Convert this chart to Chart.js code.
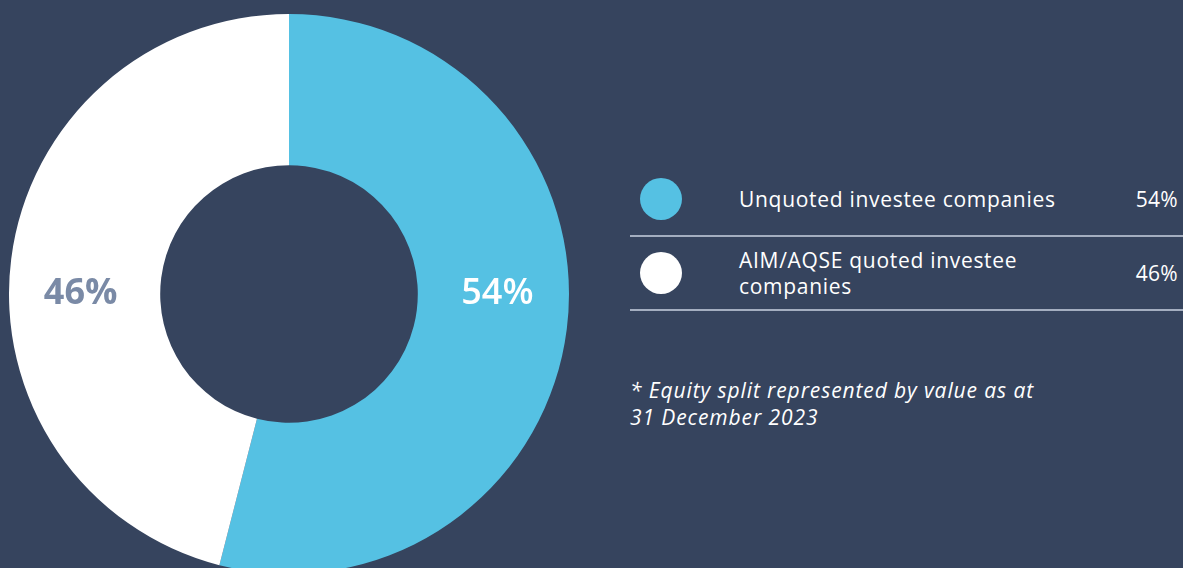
<!DOCTYPE html>
<html>
<head>
<meta charset="utf-8">
<script src="https://cdn.jsdelivr.net/npm/chart.js@4.4.1/dist/chart.umd.min.js"></script>
<style>
    html, body {
        margin: 0;
        padding: 0;
        width: 1183px;
        height: 568px;
        overflow: hidden;
        background: #36445e;
        font-family: 'Open Sans', sans-serif;
    }
    #chartBox {
        position: absolute;
        left: 9px;
        top: 14px;
        width: 560px;
        height: 560px;
    }
    #legend {
        position: absolute;
        left: 630px;
        top: 163px;
        width: 553px;
    }
    .row {
        position: relative;
        height: 72px;
        border-bottom: 2px solid #a4aec0;
        color: #ffffff;
        font-size: 21px;
        letter-spacing: 0.7px;
    }
    .dot {
        position: absolute;
        left: 10px;
        top: 15px;
        width: 42px;
        height: 42px;
        border-radius: 50%;
    }
    .name {
        position: absolute;
        left: 109px;
        top: 50%;
        transform: translateY(-50%);
        width: 340px;
        line-height: 26px;
    }
    .pct {
        position: absolute;
        right: 5px;
        top: 50%;
        transform: translateY(-50%);
        letter-spacing: 0.3px;
    }
    #note {
        position: absolute;
        left: 630px;
        top: 377px;
        color: #ffffff;
        font-style: italic;
        font-size: 21px;
        letter-spacing: 0.9px;
        line-height: 27px;
        width: 480px;
    }
</style>
</head>
<body>
<div id="chartBox"><canvas id="equityChart"></canvas></div>
<div id="legend"></div>
<div id="note">* Equity split represented by value as at<br>31 December 2023</div>
<script>
// داتا
const categories = ['Unquoted investee companies', 'AIM/AQSE quoted investee companies'];
const legendNames = ['Unquoted investee companies', 'AIM/AQSE quoted investee<br>companies'];
const shares = [54, 46];
const sliceColors = ['#55c1e3', '#ffffff'];
const labelColors = ['#ffffff', '#7a8aa6'];
const labelWeights = ['600', '700'];

// لیبڵی ناو پارچەکان
const sliceLabels = {
    id: 'sliceLabels',
    afterDatasetsDraw(chart) {
        const ctx = chart.ctx;
        const meta = chart.getDatasetMeta(0);
        ctx.save();
        ctx.textAlign = 'center';
        ctx.textBaseline = 'middle';
        meta.data.forEach((arc, i) => {
            const mid = (arc.innerRadius + arc.outerRadius) / 2 + 4;
            const side = i === 0 ? 1 : -1;
            ctx.font = labelWeights[i] + ' 36px "Open Sans"';
            ctx.fillStyle = labelColors[i];
            ctx.fillText(shares[i] + '%', arc.x + side * mid, arc.y);
        });
        ctx.restore();
    }
};

new Chart(document.getElementById('equityChart'), {
    type: 'doughnut',
    data: {
        labels: categories,
        datasets: [{
            data: shares,
            backgroundColor: sliceColors,
            borderWidth: 0
        }]
    },
    options: {
        responsive: true,
        maintainAspectRatio: false,
        animation: false,
        cutout: '46%',
        layout: { padding: 0 },
        plugins: {
            legend: { display: false },
            tooltip: { enabled: false }
        }
    },
    plugins: [sliceLabels]
});

// لیجەندی HTML
const legend = document.getElementById('legend');
categories.forEach((c, i) => {
    const row = document.createElement('div');
    row.className = 'row';
    row.innerHTML = '<div class="dot" style="background:' + sliceColors[i] + '"></div>' +
        '<div class="name">' + legendNames[i] + '</div>' +
        '<div class="pct">' + shares[i] + '%</div>';
    legend.appendChild(row);
});
</script>
</body>
</html>
